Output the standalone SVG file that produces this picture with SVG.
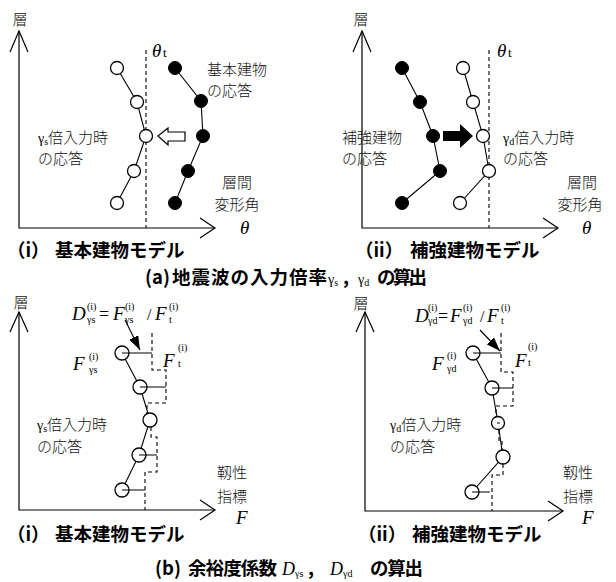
<svg xmlns="http://www.w3.org/2000/svg" width="616" height="582" viewBox="0 0 616 582">
<defs>
<style>
.ax{fill:none;stroke:#000;stroke-width:1.2}
.dash{fill:none;stroke:#000;stroke-width:1.1;stroke-dasharray:4 3}
.ln{fill:none;stroke:#000;stroke-width:1.1}
.oc{fill:#fff;stroke:#000;stroke-width:1.3}
.fc{fill:#000;stroke:#000;stroke-width:1}
.lab{font-family:"Noto Sans CJK JP","Noto Sans CJK SC",sans-serif;font-size:15px;fill:#111;font-weight:300}
.cap{font-family:"Noto Sans CJK JP","Noto Sans CJK SC",sans-serif;font-size:18.5px;font-weight:bold;fill:#000}
.m{font-family:"Liberation Serif",serif;font-style:italic;fill:#000}
.mu{font-family:"Liberation Serif",serif;fill:#000}
.sm{font-family:"Liberation Serif",serif;font-size:10px;fill:#000}
</style>
<marker id="tri" viewBox="0 0 14 10" refX="14" refY="5" markerWidth="14" markerHeight="10" markerUnits="userSpaceOnUse" orient="auto">
<path d="M0,0 L14,5 L0,10 z" fill="#000"/>
</marker>
</defs>
<rect width="616" height="582" fill="#fff"/>

<!-- Panel a-i -->
<g id="panel-a1">
<g id="a1-axes">
<path class="ax" d="M19,31 V228 H215"/>
<polyline class="ax" points="10,52 19,31 28,52"/>
<polyline class="ax" points="200,218 215,228 200,238"/>
<path class="dash" d="M146,50 V228"/>
</g>
<g id="a1-connectors">
<polyline class="ln" points="117,68 137,102 146,136 134,171 117,203"/>
<polyline class="ln" points="175,68 201,101 203,136 188,171 175,203"/>
<polygon class="ax" points="158,136 168,128 168,132 185,132 185,141 168,141 168,145" fill="#fff" style="fill:#fff"/>
</g>
<g id="a1-open">
<circle class="oc" cx="117" cy="68" r="6.5"/>
<circle class="oc" cx="137" cy="102" r="6.5"/>
<circle class="oc" cx="146" cy="136" r="6.5"/>
<circle class="oc" cx="134" cy="171" r="6.5"/>
<circle class="oc" cx="117" cy="203" r="6.5"/>
</g>
<g id="a1-filled">
<circle class="fc" cx="175" cy="68" r="6.5"/>
<circle class="fc" cx="201" cy="101" r="6.5"/>
<circle class="fc" cx="203" cy="136" r="6.5"/>
<circle class="fc" cx="188" cy="171" r="6.5"/>
<circle class="fc" cx="175" cy="203" r="6.5"/>
</g>
<g id="a1-text">
<text class="lab" x="20" y="25" text-anchor="middle">層</text>
<text class="m" x="152" y="57" font-size="19">θ</text><text class="mu" x="163" y="57" font-size="13">t</text>
<text class="m" x="240" y="234" font-size="19">θ</text>
<text class="lab" x="207" y="75">基本建物</text>
<text class="lab" x="207" y="96">の応答</text>
<text class="lab" x="38" y="143"><tspan class="mu" font-size="14">γ</tspan><tspan class="sm" font-size="9" dy="2">s</tspan><tspan dy="-2">倍入力時</tspan></text>
<text class="lab" x="38" y="164">の応答</text>
<text class="lab" x="237" y="188" text-anchor="middle">層間</text>
<text class="lab" x="237" y="210" text-anchor="middle">変形角</text>
<text class="cap" y="257"><tspan x="7">（i）</tspan><tspan x="55">基本建物モデル</tspan></text>
</g>
</g>

<!-- Panel a-ii -->
<g id="panel-a2">
<g id="a2-axes">
<path class="ax" d="M362,31 V228 H558"/>
<polyline class="ax" points="353,52 362,31 371,52"/>
<polyline class="ax" points="543,218 558,228 543,238"/>
<path class="dash" d="M489,50 V228"/>
</g>
<g id="a2-connectors">
<polyline class="ln" points="402,68 420,102 433,136 440,171 402,203"/>
<polyline class="ln" points="463,68 473,102 483,136 489,171 460,203"/>
<polygon points="443,131 460,131 460,124 473,136 460,148 460,141 443,141" fill="#000"/>
</g>
<g id="a2-filled">
<circle class="fc" cx="402" cy="68" r="6.5"/>
<circle class="fc" cx="420" cy="102" r="6.5"/>
<circle class="fc" cx="433" cy="136" r="6.5"/>
<circle class="fc" cx="440" cy="171" r="6.5"/>
<circle class="fc" cx="402" cy="203" r="6.5"/>
</g>
<g id="a2-open">
<circle class="oc" cx="463" cy="68" r="6.5"/>
<circle class="oc" cx="473" cy="102" r="6.5"/>
<circle class="oc" cx="483" cy="136" r="6.5"/>
<circle class="oc" cx="489" cy="171" r="6.5"/>
<circle class="oc" cx="460" cy="203" r="6.5"/>
</g>
<g id="a2-text">
<text class="lab" x="361" y="25" text-anchor="middle">層</text>
<text class="m" x="497" y="57" font-size="19">θ</text><text class="mu" x="508" y="57" font-size="13">t</text>
<text class="m" x="582" y="234" font-size="19">θ</text>
<text class="lab" x="342" y="143">補強建物</text>
<text class="lab" x="342" y="164">の応答</text>
<text class="lab" x="503" y="143"><tspan class="mu" font-size="14">γ</tspan><tspan class="sm" font-size="9" dy="2">d</tspan><tspan dy="-2">倍入力時</tspan></text>
<text class="lab" x="503" y="164">の応答</text>
<text class="lab" x="582" y="188" text-anchor="middle">層間</text>
<text class="lab" x="580" y="210" text-anchor="middle">変形角</text>
<text class="cap" y="257"><tspan x="355">（ii）</tspan><tspan x="410">補強建物モデル</tspan></text>
</g>
</g>

<text class="cap" y="284"><tspan x="145">(a)</tspan><tspan x="172" textLength="155" lengthAdjust="spacing">地震波の入力倍率</tspan><tspan class="mu" x="328" font-size="14" font-weight="normal">γ</tspan><tspan class="sm" font-size="9" font-weight="normal" dy="2">s</tspan><tspan dy="-2" x="343">,</tspan><tspan class="mu" x="358" font-size="14" font-weight="normal">γ</tspan><tspan class="sm" font-size="9" font-weight="normal" dy="2">d</tspan><tspan x="377" dy="-2" textLength="50" lengthAdjust="spacing">の算出</tspan></text>

<!-- Panel b-i -->
<g id="panel-b1">
<g id="b1-axes">
<path class="ax" d="M19,312 V510 H215"/>
<polyline class="ax" points="10,332 19,312 28,332"/>
<polyline class="ax" points="200,500 215,510 200,520"/>
</g>
<g id="b1-connectors">
<path class="dash" d="M152,333 V370 H166 V403 H147 V416 M151,427 V437 H157 V472 H145 V510"/>
<polyline class="ln" points="122,353 140,387 150,420 139,455 122,490"/>
<path class="ln" d="M122,353 H152 M140,387 H166 M139,455 H157 M122,490 H145"/>
<line class="ln" x1="125" y1="320" x2="140" y2="350" marker-end="url(#tri)"/>
</g>
<g id="b1-nodes">
<circle class="oc" cx="122" cy="353" r="7"/>
<circle class="oc" cx="140" cy="387" r="7"/>
<circle class="oc" cx="150" cy="420" r="7"/>
<circle class="oc" cx="139" cy="455" r="7"/>
<circle class="oc" cx="122" cy="490" r="7"/>
<path class="ln" d="M122,353 H129 M140,387 H147 M139,455 H146 M122,490 H129"/>
</g>
<g id="b1-text">
<text class="lab" x="21" y="308" text-anchor="middle">層</text>
<text class="m" x="72" y="320" font-size="19">D</text>
<text class="sm" x="87" y="310">(i)</text><text class="sm" x="87" y="323">γs</text>
<text class="mu" x="99" y="320" font-size="18">=</text>
<text class="m" x="113" y="320" font-size="19">F</text>
<text class="sm" x="125" y="310">(i)</text><text class="sm" x="125" y="323">γs</text>
<text class="mu" x="147" y="320" font-size="16">/</text>
<text class="m" x="155" y="320" font-size="19">F</text>
<text class="sm" x="169" y="310">(i)</text><text class="sm" x="169" y="323" font-size="11">t</text>
<text class="m" x="73" y="370" font-size="19">F</text>
<text class="sm" x="89" y="360">(i)</text><text class="sm" x="89" y="373">γs</text>
<text class="m" x="163" y="367" font-size="19">F</text>
<text class="sm" x="178" y="351">(i)</text><text class="sm" x="178" y="367" font-size="11">t</text>
<text class="lab" x="37" y="430"><tspan class="mu" font-size="14">γ</tspan><tspan class="sm" font-size="9" dy="2">s</tspan><tspan dy="-2">倍入力時</tspan></text>
<text class="lab" x="37" y="452">の応答</text>
<text class="lab" x="232" y="478" text-anchor="middle">靱性</text>
<text class="lab" x="232" y="502" text-anchor="middle">指標</text>
<text class="m" x="236" y="524" font-size="19">F</text>
<text class="cap" y="541"><tspan x="7">（i）</tspan><tspan x="55">基本建物モデル</tspan></text>
</g>
</g>

<!-- Panel b-ii -->
<g id="panel-b2">
<g id="b2-axes">
<path class="ax" d="M365,312 V511 H563"/>
<polyline class="ax" points="356,332 365,312 374,332"/>
<polyline class="ax" points="548,501 563,511 548,521"/>
</g>
<g id="b2-connectors">
<path class="dash" d="M501,333 V372 H513 V406 H496 V417 M499,430 V441 H502 V451 M503,464 V475 H492 V511"/>
<polyline class="ln" points="473,353 492,388 498,423 503,457 472,492"/>
<path class="ln" d="M473,353 H501 M492,388 H513 M472,492 H490"/>
<line class="ln" x1="480" y1="330" x2="500" y2="351" marker-end="url(#tri)"/>
</g>
<g id="b2-nodes">
<circle class="oc" cx="473" cy="353" r="7"/>
<circle class="oc" cx="492" cy="388" r="7"/>
<circle class="oc" cx="498" cy="423" r="6.5"/>
<circle class="oc" cx="503" cy="457" r="7"/>
<circle class="oc" cx="472" cy="492" r="7"/>
<path class="ln" d="M473,353 H480 M492,388 H499 M497,423 H500 M472,492 H479"/>
</g>
<g id="b2-text">
<text class="lab" x="361" y="309" text-anchor="middle">層</text>
<text class="m" x="415" y="322" font-size="19">D</text>
<text class="sm" x="428" y="311">(i)</text><text class="sm" x="428" y="324">γd</text>
<text class="mu" x="438" y="322" font-size="18">=</text>
<text class="m" x="450" y="322" font-size="19">F</text>
<text class="sm" x="463" y="311">(i)</text><text class="sm" x="463" y="324">γd</text>
<text class="mu" x="480" y="322" font-size="16">/</text>
<text class="m" x="487" y="322" font-size="19">F</text>
<text class="sm" x="501" y="311">(i)</text><text class="sm" x="501" y="324" font-size="11">t</text>
<text class="m" x="432" y="370" font-size="19">F</text>
<text class="sm" x="447" y="359">(i)</text><text class="sm" x="447" y="372">γd</text>
<text class="m" x="515" y="367" font-size="19">F</text>
<text class="sm" x="528" y="350">(i)</text><text class="sm" x="528" y="366" font-size="11">t</text>
<text class="lab" x="390" y="430"><tspan class="mu" font-size="14">γ</tspan><tspan class="sm" font-size="9" dy="2">d</tspan><tspan dy="-2">倍入力時</tspan></text>
<text class="lab" x="390" y="452">の応答</text>
<text class="lab" x="578" y="478" text-anchor="middle">靱性</text>
<text class="lab" x="578" y="502" text-anchor="middle">指標</text>
<text class="m" x="582" y="524" font-size="19">F</text>
<text class="cap" y="541"><tspan x="358">（ii）</tspan><tspan x="412">補強建物モデル</tspan></text>
</g>
</g>

<text class="cap" y="575"><tspan x="155">(b)</tspan><tspan x="188" textLength="89" lengthAdjust="spacing">余裕度係数</tspan><tspan class="m" x="282" font-size="18" font-weight="normal">D</tspan><tspan class="sm" font-size="10" font-weight="normal" dy="2">γs</tspan><tspan x="308" dy="-2">,</tspan><tspan class="m" x="330" font-size="18" font-weight="normal">D</tspan><tspan class="sm" font-size="10" font-weight="normal" dy="2">γd</tspan><tspan x="370" dy="-2" textLength="53" lengthAdjust="spacing">の算出</tspan></text>
</svg>
